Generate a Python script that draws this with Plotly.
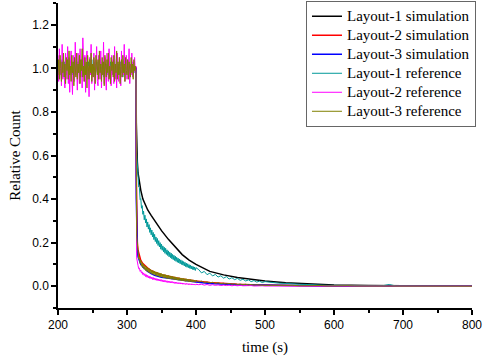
import plotly.graph_objects as go

# ---------------- data ----------------
# time grids
t_pre = list(range(200, 314))          # 200..313
t_d1 = list(range(314, 401))           # 314..400
t_d2 = list(range(404, 501, 4))        # 404..500
t_d3 = list(range(510, 801, 10))       # 510..800
t_ref = t_pre + t_d1 + t_d2 + t_d3

t_sim = [200, 313, 313.5, 314, 315, 316, 318, 320, 323, 326, 330, 335, 340, 350, 360,
         370, 380, 390, 400, 420, 440, 460, 480, 500, 530, 560, 600, 650, 700, 750, 800]

sim_l1 = [1.0, 1.0, 0.75, 0.65, 0.57, 0.52, 0.47, 0.44, 0.40, 0.375, 0.35, 0.325, 0.30, 0.255, 0.215,
          0.18, 0.145, 0.12, 0.10, 0.068, 0.052, 0.04, 0.031, 0.024, 0.016, 0.01, 0.005, 0.003, 0.0015, 0.0007, 0.0003]
sim_l2 = [1.0, 1.0, 0.5, 0.3, 0.2, 0.165, 0.135, 0.118, 0.104, 0.094, 0.083, 0.072, 0.064, 0.053, 0.045,
          0.039, 0.033, 0.028, 0.024, 0.017, 0.012, 0.009, 0.007, 0.005, 0.003, 0.002, 0.001, 0.0005, 0.0002, 0.0001, 0.0]
sim_l3 = [1.0, 1.0, 0.4, 0.22, 0.16, 0.135, 0.112, 0.1, 0.088, 0.079, 0.068, 0.058, 0.05, 0.041, 0.036,
          0.031, 0.026, 0.022, 0.019, 0.013, 0.009, 0.007, 0.005, 0.004, 0.002, 0.0015, 0.001, 0.0005, 0.0002, 0.0001, 0.0]

ref_l1_pre = [1.02, 0.98, 1.03, 0.97, 1.01, 0.99, 1.04, 0.96, 1.00, 1.03, 0.98, 1.02, 0.97, 1.01, 1.04, 0.99, 0.96, 1.02, 1.00, 0.98,
              1.03, 0.97, 1.01, 1.02, 0.96, 1.04, 0.99, 1.01, 0.97, 1.03, 0.98, 1.00, 1.02, 0.96, 1.01, 1.03, 0.99, 0.97, 1.04, 1.00,
              0.98, 1.02, 0.97, 1.01, 1.03, 0.96, 1.00, 1.02, 0.98, 1.04, 0.97, 1.01, 0.99, 1.03, 0.96, 1.02, 1.00, 0.98, 1.03, 0.97,
              1.01, 1.04, 0.99, 0.97, 1.02, 1.00, 0.96, 1.03, 0.98, 1.01, 1.02, 0.97, 1.04, 0.99, 1.00, 0.96, 1.03, 1.01, 0.98, 1.02,
              0.97, 1.00, 1.04, 0.98, 1.01, 0.96, 1.03, 0.99, 1.02, 0.97, 1.01, 1.03, 0.98, 1.00, 0.96, 1.02, 1.04, 0.99, 0.97, 1.01,
              1.03, 0.98, 1.00, 1.02, 0.96, 1.01, 0.99, 1.03, 0.97, 1.02, 0.98, 1.01, 1.00, 0.99]
ref_l1_d1 = [0.61, 0.545, 0.52, 0.455, 0.452, 0.398, 0.402, 0.358, 0.37, 0.33, 0.345, 0.305, 0.326, 0.29, 0.309, 0.272,
             0.295, 0.262, 0.283, 0.247, 0.268, 0.236, 0.258, 0.226, 0.247, 0.214, 0.238, 0.205, 0.226, 0.196, 0.219, 0.187,
             0.209, 0.18, 0.2, 0.17, 0.193, 0.165, 0.185, 0.158, 0.179, 0.151, 0.174, 0.146, 0.167, 0.141, 0.162, 0.135,
             0.156, 0.131, 0.152, 0.126, 0.146, 0.122, 0.142, 0.118, 0.138, 0.114, 0.133, 0.11, 0.129, 0.107, 0.125, 0.103,
             0.121, 0.1, 0.117, 0.097, 0.113, 0.093, 0.11, 0.09, 0.106, 0.087, 0.103, 0.085, 0.099, 0.082, 0.096, 0.079,
             0.093, 0.077, 0.09, 0.075, 0.088, 0.072, 0.085]
ref_l1_d2 = [0.076, 0.061, 0.068, 0.053, 0.06, 0.047, 0.054, 0.042, 0.048, 0.037, 0.044, 0.033, 0.039, 0.03, 0.036,
             0.027, 0.032, 0.024, 0.029, 0.021, 0.026, 0.019, 0.023, 0.017, 0.021]
ref_l1_d3 = [0.017, 0.014, 0.013, 0.010, 0.009, 0.008, 0.006, 0.006, 0.004, 0.004, 0.003, 0.003, 0.002, 0.002, 0.002,
             0.001, 0.002, 0.008, 0.001, 0.001, 0.001, 0.0, 0.001, 0.0, 0.0, 0.001, 0.0, 0.0, 0.0, 0.0]

ref_l2_pre = [1.06, 0.94, 1.09, 0.97, 1.03, 0.92, 1.11, 0.95, 1.04, 0.98, 0.91, 1.07, 1.00, 0.95, 1.10, 0.93, 1.05, 0.89, 1.02, 1.08,
              0.96, 0.88, 1.06, 1.01, 0.94, 1.12, 0.97, 1.03, 0.90, 1.07, 0.99, 0.93, 1.09, 0.96, 1.04, 0.91, 1.14, 0.98, 0.94, 1.06,
              0.89, 1.03, 1.08, 0.95, 1.01, 0.87, 1.05, 0.97, 1.11, 0.93, 1.02, 0.96, 1.07, 0.90, 1.04, 0.99, 1.10, 0.94, 0.92, 1.06,
              1.00, 0.95, 1.08, 0.91, 1.03, 0.97, 1.12, 0.93, 1.05, 0.98, 0.90, 1.07, 1.02, 0.94, 1.09, 0.96, 1.01, 0.92, 1.06, 0.97,
              1.04, 0.93, 1.10, 0.95, 1.02, 0.91, 1.07, 0.99, 0.94, 1.05, 1.01, 0.92, 1.08, 0.96, 1.03, 0.97, 1.11, 0.94, 1.00, 1.06,
              0.95, 1.04, 0.98, 1.09, 0.93, 1.02, 0.97, 1.07, 0.96, 1.03, 0.98, 1.05, 0.99, 1.01]
ref_l2_d1 = [0.13, 0.10, 0.095, 0.08, 0.083, 0.068, 0.074, 0.06, 0.066, 0.053, 0.061, 0.049, 0.057, 0.044, 0.053, 0.041,
             0.05, 0.038, 0.047, 0.036, 0.044, 0.034, 0.042, 0.031, 0.04, 0.03, 0.038, 0.028, 0.036, 0.027, 0.034, 0.025,
             0.033, 0.024, 0.031, 0.023, 0.03, 0.021, 0.029, 0.02, 0.027, 0.019, 0.026, 0.018, 0.025, 0.017, 0.024, 0.016,
             0.023, 0.015, 0.022, 0.015, 0.021, 0.014, 0.02, 0.013, 0.019, 0.012, 0.018, 0.012, 0.017, 0.011, 0.016, 0.01,
             0.016, 0.01, 0.015, 0.009, 0.014, 0.009, 0.013, 0.008, 0.013, 0.008, 0.012, 0.007, 0.012, 0.007, 0.011, 0.006,
             0.011, 0.006, 0.01, 0.006, 0.01, 0.005, 0.009]
ref_l2_d2 = [0.007, 0.009, 0.005, 0.008, 0.004, 0.007, 0.004, 0.006, 0.003, 0.005, 0.003, 0.005, 0.002, 0.004, 0.002,
             0.004, 0.002, 0.003, 0.001, 0.003, 0.001, 0.002, 0.001, 0.002, 0.001]
ref_l2_d3 = [0.001, 0.002, 0.0, 0.001, 0.0, 0.001, 0.0, 0.001, 0.0, 0.0, 0.001, 0.0, 0.0, 0.001, 0.0,
             0.0, 0.0, 0.001, 0.0, 0.0, 0.0, 0.0, 0.0, 0.0, 0.0, 0.0, 0.0, 0.0, 0.0, 0.0]

ref_l3_pre = [0.97, 1.04, 0.95, 1.06, 1.00, 0.94, 1.03, 0.98, 1.07, 0.96, 1.02, 0.93, 1.05, 0.99, 1.04, 0.95, 1.08, 0.97, 1.01, 0.94,
              1.06, 0.98, 1.03, 0.92, 1.05, 1.00, 0.96, 1.07, 0.95, 1.02, 0.98, 1.06, 0.93, 1.04, 0.99, 1.09, 0.96, 1.01, 0.94, 1.05,
              0.97, 1.03, 0.91, 1.06, 1.00, 0.95, 1.04, 0.98, 1.07, 0.94, 1.02, 0.96, 1.05, 0.99, 0.93, 1.06, 1.01, 0.97, 1.04, 0.95,
              1.08, 0.98, 1.02, 0.94, 1.05, 0.97, 1.03, 0.92, 1.06, 1.00, 0.96, 1.04, 0.98, 1.07, 0.95, 1.01, 0.93, 1.05, 0.99, 1.03,
              0.96, 1.06, 0.94, 1.02, 0.98, 1.08, 0.95, 1.03, 0.97, 1.05, 0.93, 1.01, 1.04, 0.96, 1.06, 0.98, 1.02, 0.94, 1.05, 0.99,
              0.97, 1.04, 0.95, 1.03, 1.00, 0.96, 1.05, 0.98, 1.02, 0.95, 1.04, 0.99, 1.01, 0.98]
ref_l3_d1 = [0.23, 0.165, 0.16, 0.125, 0.133, 0.105, 0.12, 0.093, 0.108, 0.085, 0.1, 0.078, 0.094, 0.072, 0.089, 0.068,
             0.085, 0.064, 0.081, 0.061, 0.077, 0.058, 0.074, 0.055, 0.071, 0.053, 0.069, 0.05, 0.066, 0.048, 0.064, 0.046,
             0.062, 0.044, 0.06, 0.042, 0.058, 0.041, 0.056, 0.039, 0.054, 0.038, 0.053, 0.036, 0.051, 0.035, 0.05, 0.034,
             0.048, 0.033, 0.047, 0.032, 0.045, 0.031, 0.044, 0.03, 0.043, 0.029, 0.041, 0.028, 0.04, 0.027, 0.039, 0.026,
             0.038, 0.025, 0.037, 0.024, 0.036, 0.023, 0.035, 0.022, 0.034, 0.022, 0.033, 0.021, 0.032, 0.02, 0.031, 0.02,
             0.03, 0.019, 0.029, 0.019, 0.028, 0.018, 0.027]
ref_l3_d2 = [0.02, 0.023, 0.017, 0.02, 0.015, 0.018, 0.013, 0.016, 0.012, 0.014, 0.01, 0.013, 0.009, 0.011, 0.008,
             0.01, 0.007, 0.009, 0.006, 0.008, 0.005, 0.007, 0.005, 0.006, 0.004]
ref_l3_d3 = [0.004, 0.005, 0.003, 0.004, 0.002, 0.003, 0.002, 0.003, 0.001, 0.002, 0.001, 0.002, 0.001, 0.001, 0.0,
             0.001, 0.001, 0.0, 0.001, 0.0, 0.0, 0.001, 0.0, 0.0, 0.0, 0.0, 0.0, 0.0, 0.0, 0.0]

ref_l1 = ref_l1_pre + ref_l1_d1 + ref_l1_d2 + ref_l1_d3
ref_l2 = ref_l2_pre + ref_l2_d1 + ref_l2_d2 + ref_l2_d3
ref_l3 = ref_l3_pre + ref_l3_d1 + ref_l3_d2 + ref_l3_d3
for s in (ref_l1, ref_l2, ref_l3):
    assert len(s) == len(t_ref), (len(s), len(t_ref))
for s in (sim_l1, sim_l2, sim_l3):
    assert len(s) == len(t_sim), (len(s), len(t_sim))

names = ["Layout-1 simulation", "Layout-2 simulation", "Layout-3 simulation",
         "Layout-1 reference", "Layout-2 reference", "Layout-3 reference"]
colors = ["#000000", "#FF0000", "#0000FF", "#009999", "#FF00FF", "#808000"]

# ---------------- figure ----------------
def legend_label(s):
    return '<span style="font-size:15px">' + s + '</span>'

fig = go.Figure()
for name, ys, c in zip(names[:3], [sim_l1, sim_l2, sim_l3], colors[:3]):
    fig.add_trace(go.Scatter(x=t_sim, y=ys, mode="lines", name=legend_label(name),
                             line=dict(color=c, width=1.5)))
for name, ys, c in zip(names[3:], [ref_l1, ref_l2, ref_l3], colors[3:]):
    fig.add_trace(go.Scatter(x=t_ref, y=ys, mode="lines", name=legend_label(name),
                             line=dict(color=c, width=1)))

serif = "Liberation Serif"
sans = "Liberation Sans"
axis_common = dict(showline=True, linecolor="black", linewidth=1.5, showgrid=False,
                   zeroline=False, ticks="outside", ticklen=5, tickwidth=1.5,
                   tickcolor="black", tickfont=dict(family=sans, size=12, color="black"))

fig.update_layout(
    width=484, height=356,
    margin=dict(l=58, r=12, t=2, b=48),
    paper_bgcolor="white", plot_bgcolor="white",
    xaxis=dict(range=[200, 800], dtick=100, tick0=200,
               minor=dict(dtick=50, ticks="outside", ticklen=3, tickcolor="black", tickwidth=1.5),
               title=dict(text="time (s)", font=dict(family=serif, size=15, color="black"), standoff=10),
               **axis_common),
    yaxis=dict(range=[-0.1, 1.3], dtick=0.2, tick0=0, tickformat=".1f",
               minor=dict(dtick=0.1, ticks="outside", ticklen=3, tickcolor="black", tickwidth=1.5),
               title=dict(text="Relative Count", font=dict(family=serif, size=15, color="black"), standoff=8),
               **axis_common),
    legend=dict(x=0.599, y=1.004, xanchor="left", yanchor="top",
                font=dict(family=serif, size=12, color="black"),
                bordercolor="#666666", borderwidth=1, bgcolor="white",
                tracegroupgap=0, itemwidth=30),
    showlegend=True,
)

fig.write_html("out.html", config={"displayModeBar": False},
               post_script="document.body.style.margin='0px';document.body.style.overflow='hidden';")
